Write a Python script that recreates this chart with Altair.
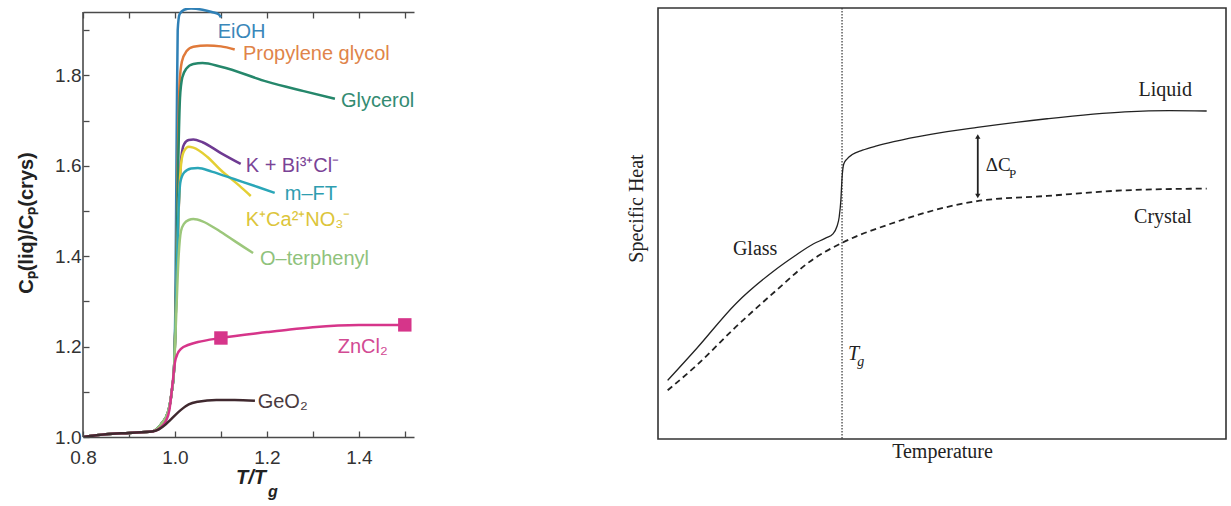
import altair as alt
import pandas as pd

# ---------------- Left panel data: Cp(liq)/Cp(crys) vs T/Tg ----------------
series_names = ["EiOH", "Propylene glycol", "Glycerol", "K + Bi³⁺Cl⁻", "K⁺Ca²⁺NO₃⁻",
                "m–FT", "O–terphenyl", "ZnCl₂", "GeO₂"]
series_colors = ["#2f80b6", "#e07a3a", "#25876b", "#6e3a92", "#e4cf34",
                 "#2aa6b8", "#9cc77b", "#d6358a", "#40292f"]

base_x = [0.80, 0.85, 0.90, 0.95, 0.97, 0.985, 0.993, 0.998]
base_y = [1.000, 1.006, 1.009, 1.012, 1.028, 1.055, 1.10, 1.15]

eioh_x = base_x + [1.001, 1.004, 1.006, 1.010, 1.020, 1.035, 1.060, 1.080, 1.095, 1.100]
eioh_y = base_y + [1.30, 1.70, 1.90, 1.935, 1.945, 1.948, 1.945, 1.940, 1.935, 1.928]

pg_x = base_x + [1.002, 1.006, 1.010, 1.015, 1.025, 1.040, 1.070, 1.100, 1.130]
pg_y = base_y + [1.30, 1.60, 1.78, 1.830, 1.853, 1.863, 1.866, 1.864, 1.857]

gly_x = base_x + [1.002, 1.007, 1.011, 1.016, 1.025, 1.040, 1.060, 1.100, 1.200, 1.280, 1.348]
gly_y = base_y + [1.30, 1.60, 1.75, 1.795, 1.815, 1.825, 1.827, 1.819, 1.786, 1.765, 1.748]

kbi_x = base_x + [1.002, 1.008, 1.014, 1.020, 1.030, 1.040, 1.060, 1.100, 1.143]
kbi_y = base_y + [1.28, 1.50, 1.62, 1.648, 1.657, 1.658, 1.652, 1.628, 1.604]

kca_x = base_x + [1.002, 1.008, 1.014, 1.020, 1.030, 1.040, 1.070, 1.100, 1.140, 1.165]
kca_y = base_y + [1.28, 1.50, 1.61, 1.633, 1.642, 1.640, 1.620, 1.590, 1.556, 1.533]

mft_x = base_x + [1.002, 1.007, 1.012, 1.020, 1.035, 1.050, 1.080, 1.130, 1.180, 1.217]
mft_y = base_y + [1.28, 1.48, 1.565, 1.585, 1.594, 1.595, 1.587, 1.570, 1.553, 1.540]

ot_x = base_x + [1.002, 1.008, 1.013, 1.020, 1.030, 1.040, 1.060, 1.090, 1.120, 1.150, 1.170]
ot_y = base_y + [1.25, 1.40, 1.455, 1.472, 1.480, 1.482, 1.477, 1.460, 1.440, 1.420, 1.407]

zn_x = [0.80, 0.85, 0.90, 0.95, 0.97, 0.98, 0.988, 0.995, 1.000, 1.006, 1.013, 1.030,
        1.050, 1.100, 1.200, 1.250, 1.300, 1.400, 1.500]
zn_y = [1.000, 1.006, 1.009, 1.012, 1.022, 1.035, 1.060, 1.120, 1.165, 1.185, 1.195, 1.204,
        1.210, 1.219, 1.232, 1.238, 1.243, 1.248, 1.248]

geo_x = [0.80, 0.85, 0.90, 0.95, 0.965, 0.98, 0.99, 1.00, 1.013, 1.03, 1.05, 1.09, 1.13, 1.174]
geo_y = [1.000, 1.006, 1.009, 1.012, 1.017, 1.028, 1.038, 1.048, 1.060, 1.072, 1.078, 1.082, 1.082, 1.080]

series_x = [eioh_x, pg_x, gly_x, kbi_x, kca_x, mft_x, ot_x, zn_x, geo_x]
series_y = [eioh_y, pg_y, gly_y, kbi_y, kca_y, mft_y, ot_y, zn_y, geo_y]

# ZnCl2 square markers
marker_x = [1.10, 1.50]
marker_y = [1.219, 1.248]

# Curve labels
label_text = series_names
label_x = [1.093, 1.148, 1.361, 1.154, 1.154, 1.239, 1.185, 1.354, 1.180]
label_y = [1.896, 1.847, 1.743, 1.600, 1.480, 1.538, 1.394, 1.199, 1.077]
label_colors = ["#3a87ba", "#e0844a", "#338b72", "#7a4396", "#dcc53a",
                "#2e9db0", "#8fc27c", "#d24a93", "#4a3a3f"]

x_tick_values = [0.8, 0.9, 1.0, 1.1, 1.2, 1.3, 1.4, 1.5]
x_label_values = [0.8, 1.0, 1.2, 1.4]
y_tick_values = [1.0, 1.1, 1.2, 1.3, 1.4, 1.5, 1.6, 1.7, 1.8, 1.9]
y_label_values = [1.0, 1.2, 1.4, 1.6, 1.8]
frame_y = [1.0, 1.94]

# ---------------- Right panel data: schematic specific heat ----------------
liquid_x = [1.7, 6.8, 13.7, 20.5, 24.0, 27.4, 29.5, 30.8, 31.5, 31.9, 32.2, 32.4, 32.7, 33.3,
            34.2, 36.0, 38.5, 41.5, 48.0, 56.2, 68.5, 82.2, 90.0, 96.6]
liquid_y = [13.6, 21.0, 31.4, 39.1, 42.4, 45.3, 46.6, 47.6, 49.3, 51.5, 55.5, 60.5, 63.8, 65.0,
            66.0, 67.0, 68.0, 69.0, 70.7, 72.3, 74.3, 75.9, 76.2, 76.1]
crystal_x = [1.7, 6.8, 13.7, 20.5, 27.4, 32.4, 41.1, 56.2, 68.5, 82.2, 96.6]
crystal_y = [11.3, 17.1, 26.0, 34.1, 41.8, 45.5, 50.0, 55.2, 56.4, 57.7, 58.1]
tg_x = [32.4]
arrow_x = [56.3]
arrow_bottom = [56.4]
arrow_top = [70.2]

# ---------------- Build tables ----------------
rows = []
for name, xs, ys in zip(series_names, series_x, series_y):
    for xv, yv in zip(xs, ys):
        rows.append({"series": name, "x": xv, "y": yv})
left_df = pd.DataFrame(rows)
marker_df = pd.DataFrame({"x": marker_x, "y": marker_y})
label_df = pd.DataFrame({"text": label_text, "x": label_x, "y": label_y, "c": label_colors})

LW, LH = 331, 429
xs_left = alt.Scale(domain=[0.8, 1.52], nice=False, zero=False)
ys_left = alt.Scale(domain=[1.0, 1.9489], nice=False, zero=False)
AX = "#4a4a4a"

lines = alt.Chart(left_df).mark_line(strokeWidth=2.5, interpolate="monotone", clip=True).encode(
    x=alt.X("x:Q", scale=xs_left,
            axis=alt.Axis(orient="bottom", values=x_label_values, format=".1f", ticks=False,
                          tickSize=0, labelPadding=11, labelFlush=False, domainColor=AX,
                          domainWidth=1.6, grid=False, title=None, labelFontSize=19,
                          labelColor="#333", labelFont="Liberation Sans")),
    y=alt.Y("y:Q", scale=ys_left,
            axis=alt.Axis(orient="left", values=y_label_values, format=".1f", ticks=False,
                          tickSize=0, labelPadding=2, labelFlush=False, domain=False,
                          grid=False, title="Cₚ(liq)/Cₚ(crys)", titleFontSize=20,
                          titleFontWeight="bold", titleFont="Liberation Sans",
                          titleColor="#222", titlePadding=18, labelFontSize=19,
                          labelColor="#333", labelFont="Liberation Sans")),
    color=alt.Color("series:N", scale=alt.Scale(domain=series_names, range=series_colors),
                    legend=None, sort=series_names),
)

frame = alt.Chart(pd.DataFrame({"y0": [frame_y[0]], "y1": [frame_y[1]]})).mark_rule(
    color=AX, strokeWidth=1.6).encode(
    x=alt.value(0), y=alt.Y("y0:Q", scale=ys_left, axis=None), y2="y1:Q")

markers = alt.Chart(marker_df).mark_point(shape="square", filled=True, size=180,
                                          color="#d6358a", opacity=1).encode(
    x=alt.X("x:Q", scale=xs_left,
            axis=alt.Axis(orient="top", offset=-LH, values=x_tick_values, labels=False,
                          domain=False, ticks=True, tickSize=6, tickColor=AX, tickWidth=1.3,
                          grid=False, title=None)),
    y=alt.Y("y:Q", scale=ys_left, axis=None),
)

labels = alt.Chart(label_df).mark_text(align="left", baseline="middle", fontSize=20,
                                       font="Liberation Sans").encode(
    x=alt.X("x:Q", scale=xs_left,
            axis=alt.Axis(orient="bottom", offset=-(LH - 4), values=x_tick_values, labels=False,
                          domain=True, domainColor=AX, domainWidth=1.6, ticks=True,
                          tickSize=6, tickColor=AX, tickWidth=1.3, grid=False, title=None)),
    y=alt.Y("y:Q", scale=ys_left,
            axis=alt.Axis(orient="right", offset=-LW, values=y_tick_values, labels=False,
                          domain=False, ticks=True, tickSize=6, tickColor=AX, tickWidth=1.3,
                          grid=False, title=None)),
    text="text:N",
    color=alt.Color("c:N", scale=None),
)

xt1 = alt.Chart(pd.DataFrame({"t": ["T/T"]})).mark_text(
    fontSize=20, fontWeight="bold", fontStyle="italic", font="Liberation Sans",
    align="center", baseline="middle", color="#222").encode(
    x=alt.value(168), y=alt.value(470), text="t:N")
xt2 = alt.Chart(pd.DataFrame({"t": ["g"]})).mark_text(
    fontSize=16, fontWeight="bold", fontStyle="italic", font="Liberation Sans",
    align="left", baseline="middle", color="#222").encode(
    x=alt.value(185), y=alt.value(484), text="t:N")

left = alt.layer(lines, frame, markers, labels, xt1, xt2).resolve_axis(
    x="independent", y="independent"
).properties(width=LW, height=LH, view=alt.ViewBackground(stroke="transparent"))

# ---------------- Right panel ----------------
RW, RH = 568, 431
SERIF = "Liberation Serif"
xs_r = alt.Scale(domain=[0, 100], nice=False, zero=False)
ys_r = alt.Scale(domain=[0, 100], nice=False, zero=False)
xr_axis = alt.Axis(title="Temperature", labels=False, ticks=False, domain=False, grid=False,
                   titleFont=SERIF, titleFontSize=20, titleFontWeight="normal",
                   titleColor="#222", titlePadding=2)
yr_axis = alt.Axis(title="Specific Heat", labels=False, ticks=False, domain=False, grid=False,
                   titleFont=SERIF, titleFontSize=20, titleFontWeight="normal",
                   titleColor="#222", titlePadding=12, titleY=200)

liq_df = pd.DataFrame({"x": liquid_x, "y": liquid_y})
cry_df = pd.DataFrame({"x": crystal_x, "y": crystal_y})

liq = alt.Chart(liq_df).mark_line(color="#222", strokeWidth=1.3, interpolate="monotone").encode(
    x=alt.X("x:Q", scale=xs_r, axis=xr_axis), y=alt.Y("y:Q", scale=ys_r, axis=yr_axis))
cry = alt.Chart(cry_df).mark_line(color="#222", strokeWidth=1.8, strokeDash=[6, 4],
                                  interpolate="monotone").encode(
    x=alt.X("x:Q", scale=xs_r, axis=xr_axis), y=alt.Y("y:Q", scale=ys_r, axis=yr_axis))
tg = alt.Chart(pd.DataFrame({"x": tg_x})).mark_rule(color="#333", strokeWidth=1.2,
                                                    strokeDash=[1.5, 1.5]).encode(
    x=alt.X("x:Q", scale=xs_r, axis=xr_axis))
arrow_df = pd.DataFrame({"x": arrow_x, "y1": arrow_bottom, "y2": arrow_top})
arrow = alt.Chart(arrow_df).mark_rule(color="#222", strokeWidth=1.8).encode(
    x=alt.X("x:Q", scale=xs_r, axis=xr_axis), y=alt.Y("y1:Q", scale=ys_r, axis=yr_axis), y2="y2:Q")
head_up = alt.Chart(arrow_df).mark_point(shape="triangle-up", filled=True, size=28,
                                         color="#222", opacity=1).encode(
    x=alt.X("x:Q", scale=xs_r, axis=xr_axis), y=alt.Y("y2:Q", scale=ys_r, axis=yr_axis))
head_dn = alt.Chart(arrow_df).mark_point(shape="triangle-down", filled=True, size=28,
                                         color="#222", opacity=1).encode(
    x=alt.X("x:Q", scale=xs_r, axis=xr_axis), y=alt.Y("y1:Q", scale=ys_r, axis=yr_axis))

ann_text = ["Liquid", "Crystal", "Glass"]
ann_x = [89.3, 88.9, 17.1]
ann_y = [81.0, 51.5, 44.1]
ann = alt.Chart(pd.DataFrame({"t": ann_text, "x": ann_x, "y": ann_y})).mark_text(
    font=SERIF, fontSize=20, color="#222", align="center", baseline="middle").encode(
    x=alt.X("x:Q", scale=xs_r, axis=xr_axis), y=alt.Y("y:Q", scale=ys_r, axis=yr_axis), text="t:N")

sub_text = ["ΔC", "P", "T", "g"]
sub_x = [57.7, 61.8, 33.45, 35.1]
sub_y = [63.6, 61.6, 19.7, 17.9]
sub_size = [19, 13, 20, 14]
sub_style = ["normal", "normal", "italic", "italic"]
sub_df = pd.DataFrame({"t": sub_text, "x": sub_x, "y": sub_y, "s": sub_size, "st": sub_style})
subs_n = alt.Chart(sub_df).transform_filter("datum.st == 'normal'").mark_text(
    font=SERIF, color="#222", align="left", baseline="middle").encode(
    x=alt.X("x:Q", scale=xs_r, axis=xr_axis), y=alt.Y("y:Q", scale=ys_r, axis=yr_axis),
    text="t:N", size=alt.Size("s:Q", scale=None, legend=None))
subs_i = alt.Chart(sub_df).transform_filter("datum.st == 'italic'").mark_text(
    font=SERIF, fontStyle="italic", color="#222", align="left", baseline="middle").encode(
    x=alt.X("x:Q", scale=xs_r, axis=xr_axis), y=alt.Y("y:Q", scale=ys_r, axis=yr_axis),
    text="t:N", size=alt.Size("s:Q", scale=None, legend=None))

right = alt.layer(tg, cry, liq, arrow, head_up, head_dn, ann, subs_n, subs_i).properties(
    width=RW, height=RH, view=alt.ViewBackground(stroke="#333", strokeWidth=1.6))

chart = alt.hconcat(left, right, spacing=210).properties(
    padding={"left": 16, "top": 6, "right": 2, "bottom": 0},
    background="white",
).configure_view(stroke=None)

chart.save("out.html", embed_options={"renderer": "svg", "actions": False})
